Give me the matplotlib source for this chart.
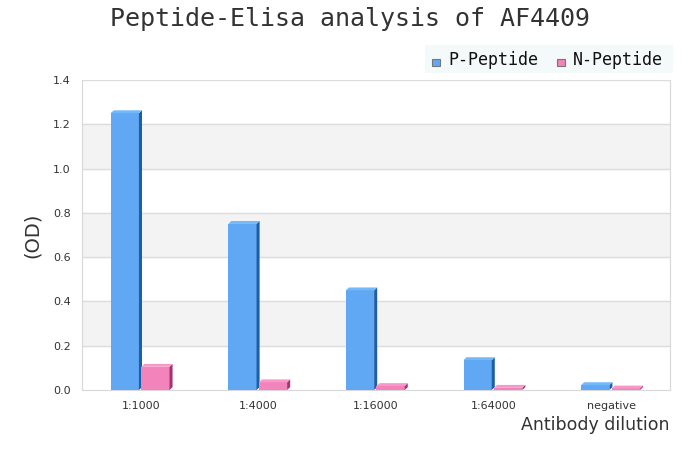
import numpy as np
import matplotlib.pyplot as plt
from matplotlib.patches import Polygon

categories = ['1:1000', '1:4000', '1:16000', '1:64000', 'negative']
p_peptide = [1.25, 0.75, 0.45, 0.135, 0.022]
n_peptide = [0.105, 0.035, 0.018, 0.010, 0.007]
yticks = [0.0, 0.2, 0.4, 0.6, 0.8, 1.0, 1.2, 1.4]

mono = ['DejaVu Sans Mono']

fig = plt.figure(figsize=(7, 4.5), dpi=100)
ax = fig.add_axes([0.117, 0.1333, 0.840, 0.689])

# alternating bands + grid
for i in range(len(yticks) - 1):
    if i % 2 == 1:
        ax.axhspan(yticks[i], yticks[i + 1], color='#f3f3f3', zorder=0)
for y in yticks[1:]:
    ax.axhline(y, color='#dddddd', lw=1, zorder=1)

w = 0.24
dx, dy = 0.026, 0.013


def bar3d(x0, h, front, side, top):
    ax.add_patch(Polygon([[x0, 0], [x0 + w, 0], [x0 + w, h], [x0, h]],
                         closed=True, fc=front, ec='none', zorder=3))
    ax.add_patch(Polygon([[x0 + w, 0], [x0 + w + dx, dy], [x0 + w + dx, h + dy], [x0 + w, h]],
                         closed=True, fc=side, ec='none', zorder=3))
    ax.add_patch(Polygon([[x0, h], [x0 + w, h], [x0 + w + dx, h + dy], [x0 + dx, h + dy]],
                         closed=True, fc=top, ec='none', zorder=3))


x = np.arange(len(categories))
for i in range(len(categories)):
    bar3d(x[i] - 0.255, p_peptide[i], '#60a8f4', '#1c5ea8', '#72b8fb')
    bar3d(x[i] + 0.005, n_peptide[i], '#f283bb', '#a8346f', '#f898c9')

ax.set_xlim(-0.5, len(categories) - 0.5)
ax.set_ylim(0, 1.4)
ax.set_yticks(yticks)
ax.set_yticklabels(['%.1f' % v for v in yticks])
ax.set_xticks(x)
ax.set_xticklabels(categories)
ax.tick_params(length=0, labelsize=8, colors='#333333', pad=8)

for s in ['left', 'bottom', 'right']:
    ax.spines[s].set_color('#d8d8d8')
ax.spines['top'].set_visible(False)

ax.set_ylabel('(OD)', fontsize=14, color='#333333')
ax.yaxis.set_label_coords(-0.068, 0.5)
fig.text(0.957, 0.055, 'Antibody dilution', ha='right', va='center', fontsize=12.5, color='#333333')

fig.text(0.5, 0.958, 'Peptide-Elisa analysis of AF4409', ha='center', va='center',
         fontsize=18, family=mono, color='#333333')

# legend
fig.patches.append(plt.Rectangle((0.607, 0.838), 0.354, 0.062, transform=fig.transFigure,
                                 fc='#f4f9fa', ec='none'))
fig.patches.append(plt.Rectangle((0.617, 0.853), 0.011, 0.017, transform=fig.transFigure,
                                 fc='#60a8f4', ec='#777777', lw=0.8))
fig.text(0.640, 0.866, 'P-Peptide', ha='left', va='center', fontsize=12, family=mono, color='#111111')
fig.patches.append(plt.Rectangle((0.796, 0.853), 0.011, 0.017, transform=fig.transFigure,
                                 fc='#f283bb', ec='#777777', lw=0.8))
fig.text(0.819, 0.866, 'N-Peptide', ha='left', va='center', fontsize=12, family=mono, color='#111111')

plt.savefig('out.png', dpi=100)
